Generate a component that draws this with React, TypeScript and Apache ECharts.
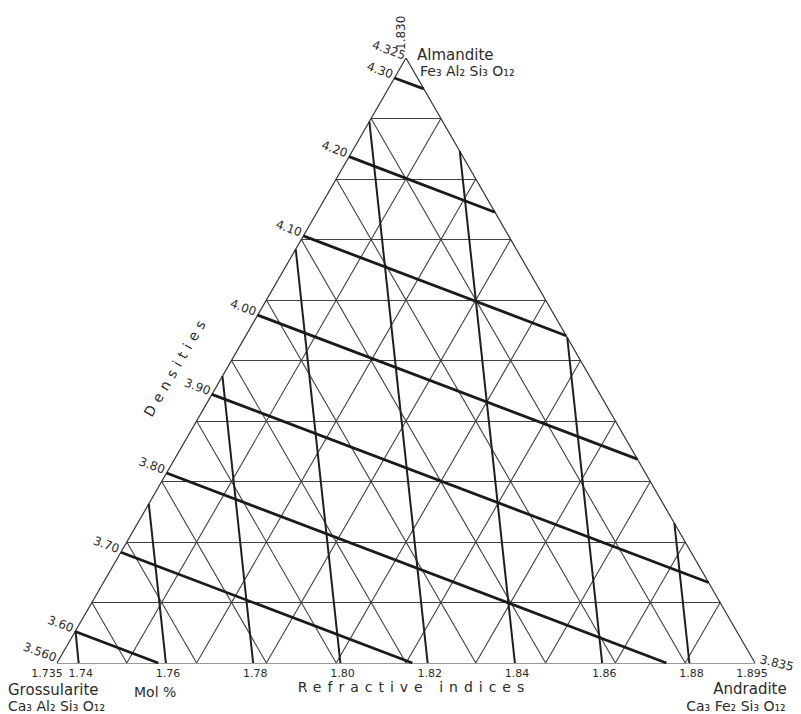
import React, { useEffect, useRef } from "react";
import * as echarts from "echarts";

const H = Math.sqrt(3) / 2;

// 10 mol % grid steps
const gridSteps = [0.1, 0.2, 0.3, 0.4, 0.5, 0.6, 0.7, 0.8, 0.9];

// Refractive-index isolines: start on the Grossularite–Andradite base (Andradite fraction),
// end on a side (Almandite fraction)
const riLabels = ["1.74", "1.76", "1.78", "1.80", "1.82", "1.84", "1.86", "1.88"];
const riBaseAndradite = [0.031, 0.156, 0.281, 0.406, 0.531, 0.656, 0.781, 0.906];
const riSide = ["left", "left", "left", "left", "left", "right", "right", "right"];
const riSideAlmandite = [0.053, 0.263, 0.474, 0.684, 0.895, 0.846, 0.538, 0.231];

// Density isolines: start on the Grossularite–Almandite side (Almandite fraction)
const densityLabels = ["3.60", "3.70", "3.80", "3.90", "4.00", "4.10", "4.20", "4.30"];
const densityLeftAlmandite = [0.052, 0.183, 0.314, 0.444, 0.575, 0.706, 0.837, 0.967];
const densityEndSide = ["bottom", "bottom", "bottom", "right", "right", "right", "right", "right"];
const densityEndFraction = [0.145, 0.509, 0.873, 0.133, 0.337, 0.541, 0.745, 0.949];

// End members: Grossularite, Andradite, Almandite
const vertexRI = ["1.735", "1.895", "1.830"];
const vertexDensity = ["3.560", "3.835", "4.325"];

const tern = (a: number, al: number): [number, number] => [a + al / 2, al * H];
const leftPt = (f: number) => tern(0, f);
const rightPt = (f: number) => tern(1 - f, f);
const basePt = (f: number) => tern(f, 0);
const sidePt = (side: string, f: number) =>
  side === "left" ? leftPt(f) : side === "right" ? rightPt(f) : basePt(f);

const FONT = "'DejaVu Sans', sans-serif";
const TXT = "#2b2b2b";

export default function App() {
  const ref = useRef<HTMLDivElement>(null);
  useEffect(() => {
    const el = ref.current!;
    const chart = echarts.init(el, null, { renderer: "svg" });

    const outline = [
      { coords: [tern(0, 0), tern(1, 0)] },
      { coords: [tern(1, 0), tern(0, 1)] },
      { coords: [tern(0, 1), tern(0, 0)] },
    ];
    const gridLines: any[] = [];
    gridSteps.forEach((k) => {
      gridLines.push({ coords: [leftPt(k), rightPt(k)] });
      gridLines.push({ coords: [basePt(k), rightPt(1 - k)] });
      gridLines.push({ coords: [basePt(1 - k), leftPt(1 - k)] });
    });
    const riLines = riLabels.map((_, i) => ({
      coords: [basePt(riBaseAndradite[i]), sidePt(riSide[i], riSideAlmandite[i])],
    }));
    const dLines = densityLabels.map((_, i) => ({
      coords: [leftPt(densityLeftAlmandite[i]), sidePt(densityEndSide[i], densityEndFraction[i])],
    }));

    const lineSeries = (data: any[], width: number, color: string, z: number) => ({
      type: "lines",
      coordinateSystem: "cartesian2d",
      data,
      silent: true,
      z,
      lineStyle: { color, width, opacity: 1, curveness: 0 },
    });

    chart.setOption({
      animation: false,
      backgroundColor: "#ffffff",
      grid: { left: 57, top: 58, width: 698, height: 605 },
      xAxis: { type: "value", min: 0, max: 1, show: false },
      yAxis: { type: "value", min: 0, max: H, show: false },
      series: [
        lineSeries(gridLines, 1.1, "#404040", 1),
        lineSeries(outline, 1.2, "#333333", 2),
        lineSeries(riLines, 2, "#1e1e1e", 3),
        lineSeries(dLines, 2.8, "#1a1a1a", 4),
      ],
    });

    const px = (p: [number, number]) => chart.convertToPixel({ gridIndex: 0 }, p) as number[];
    const t = (text: string, x: number, y: number, o: any = {}) => ({
      type: "text",
      x,
      y,
      rotation: o.rotation || 0,
      silent: true,
      style: {
        text,
        fill: TXT,
        font: `${o.size || 12}px ${FONT}`,
        align: o.align || "center",
        verticalAlign: o.valign || "middle",
      },
    });

    const rot = (-20 * Math.PI) / 180;
    const g: any[] = [];
    // refractive index tick labels along base
    riLabels.forEach((lab, i) => {
      const p = px(basePt(riBaseAndradite[i]));
      g.push(t(lab, p[0] + 2, p[1] + 10, { size: 11 }));
    });
    const gPt = px(tern(0, 0));
    const aPt = px(tern(1, 0));
    const alPt = px(tern(0, 1));
    g.push(t(vertexRI[0], gPt[0] - 10, gPt[1] + 10, { size: 11 }));
    g.push(t(vertexRI[1], aPt[0] - 3, aPt[1] + 10, { size: 11 }));
    g.push(t(vertexRI[2], alPt[0] - 5, alPt[1] - 8, { size: 12, rotation: Math.PI / 2, align: "left" }));
    // density labels along left side
    densityLabels.forEach((lab, i) => {
      const p = px(leftPt(densityLeftAlmandite[i]));
      g.push(t(lab, p[0] - 2, p[1] - 3, { size: 12, rotation: rot, align: "right" }));
    });
    g.push(t(vertexDensity[0], gPt[0] - 1, gPt[1] - 5, { size: 12, rotation: rot, align: "right" }));
    g.push(t(vertexDensity[1], aPt[0] + 5, aPt[1] - 4, { size: 12, rotation: (-14 * Math.PI) / 180, align: "left" }));
    g.push(t(vertexDensity[2], alPt[0] - 1, alPt[1] - 2, { size: 12, rotation: rot, align: "right" }));

    // names
    g.push(t("Almandite", 417, 55, { size: 15, align: "left" }));
    g.push(t("Fe₃ Al₂ Si₃ O₁₂", 420, 71, { size: 14, align: "left" }));
    g.push(t("Grossularite", 8, 690, { size: 15, align: "left" }));
    g.push(t("Ca₃ Al₂ Si₃ O₁₂", 8, 706, { size: 14, align: "left" }));
    g.push(t("Mol %", 134, 692, { size: 14, align: "left" }));
    g.push(t("Andradite", 750, 689, { size: 15 }));
    g.push(t("Ca₃ Fe₂ Si₃ O₁₂", 736, 706, { size: 14 }));
    g.push(t("Refractive indices", 414, 687, { size: 14 }));
    g.push(t("Densities", 176, 366, { size: 14, rotation: (60 * Math.PI) / 180 }));

    chart.setOption({ graphic: { elements: g } });

    const applySpacing = () => {
      el.querySelectorAll("text").forEach((n) => {
        const s = n.textContent;
        if (s === "Refractive indices") n.setAttribute("letter-spacing", "6");
        if (s === "Densities") n.setAttribute("letter-spacing", "5.5");
      });
    };
    applySpacing();
    chart.on("finished", applySpacing);
    const tm = setTimeout(applySpacing, 30);

    return () => {
      clearTimeout(tm);
      chart.dispose();
    };
  }, []);

  return (
    <div
      ref={ref}
      style={{ position: "fixed", left: 0, top: 0, width: 801, height: 714, background: "#fff" }}
    />
  );
}
